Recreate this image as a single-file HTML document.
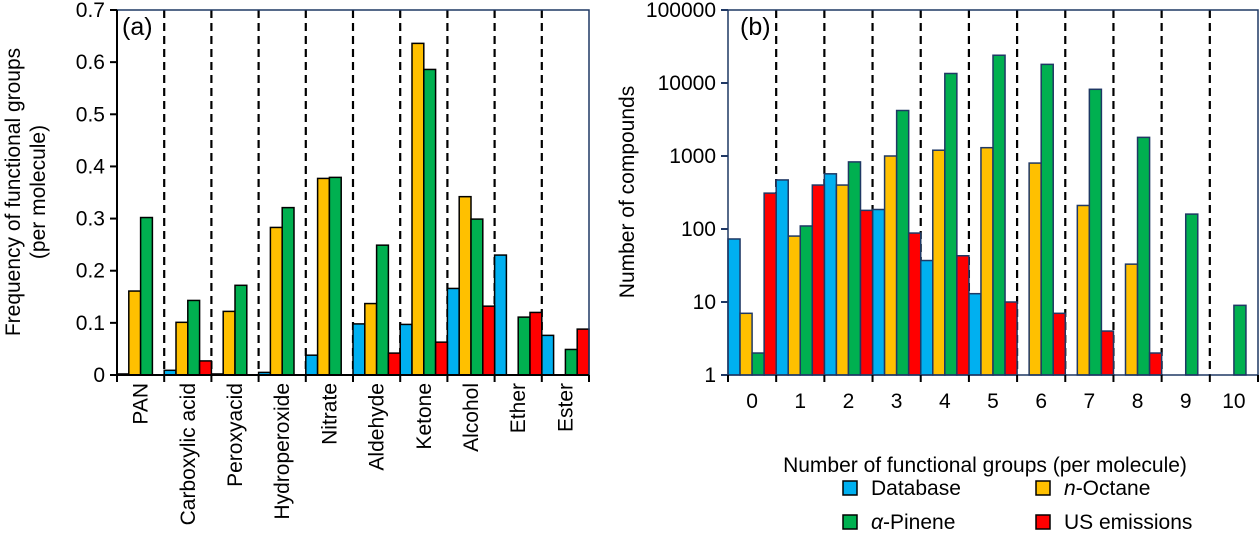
<!DOCTYPE html>
<html><head><meta charset="utf-8"><style>
body{margin:0;background:#fff;}
svg{display:block;font-family:"Liberation Sans",Arial,sans-serif;}
</style></head><body>
<svg id="chart" width="1260" height="551" viewBox="0 0 1260 551"></svg>
<script>
const catsA=["PAN","Carboxylic acid","Peroxyacid","Hydroperoxide","Nitrate","Aldehyde","Ketone","Alcohol","Ether","Ester"];
const dbA=[0.002,0.009,0.002,0.005,0.038,0.098,0.097,0.166,0.230,0.076];
const octA=[0.161,0.101,0.122,0.283,0.377,0.137,0.636,0.342,0,0];
const pinA=[0.302,0.143,0.172,0.321,0.379,0.249,0.586,0.299,0.111,0.049];
const usA=[0,0.027,0,0,0,0.042,0.063,0.132,0.120,0.088];
const ticksA=["0","0.1","0.2","0.3","0.4","0.5","0.6","0.7"];
const catsB=["0","1","2","3","4","5","6","7","8","9","10"];
const dbB=[73,470,570,185,37,13,0,0,0,0,0];
const octB=[7,80,400,1000,1200,1300,800,210,33,0,0];
const pinB=[2,110,830,4200,13500,24000,18000,8200,1800,160,9];
const usB=[310,400,180,88,43,10,7,4,2,0,0];
const ticksB=["1","10","100","1000","10000","100000"];
const colors=["#00B0F0","#FFC000","#00B050","#FF0000"];
const NS="http://www.w3.org/2000/svg";
const svg=document.getElementById("chart");
function mk(tag,attrs,parent){const e=document.createElementNS(NS,tag);for(const k in attrs)e.setAttribute(k,attrs[k]);(parent||svg).appendChild(e);return e;}
const AXC="#1F3864";
const FS=21;
// Panel A
const aL=117,aR=589,aT=10,aB=375;
const yA=v=>aB-(v/0.7)*(aB-aT);
const cwA=(aR-aL)/catsA.length;
const xA=i=>aL+i*cwA;
const gA=mk("g",{});


for(let i=1;i<catsA.length;i++){const l=mk("line",{x1:xA(i),x2:xA(i),y1:aT,y2:aB,stroke:"#000","stroke-width":2.2,"stroke-dasharray":"8,5"},gA);

}
const seriesA=[dbA,octA,pinA,usA];
seriesA.forEach((s,si)=>{s.forEach((v,i)=>{if(v<=0)return;const bw=cwA/4;const r=mk("rect",{x:xA(i)+si*bw,y:yA(v),width:bw,height:aB-yA(v),fill:colors[si],stroke:"#000","stroke-width":1.5},gA);

});});
mk("rect",{x:aL,y:aT,width:aR-aL,height:aB-aT,fill:"none",stroke:AXC,"stroke-width":1.5},gA);
mk("line",{x1:aL,x2:aL,y1:aT,y2:aB,stroke:"#000","stroke-width":2},gA);
mk("line",{x1:aL,x2:aR,y1:aB,y2:aB,stroke:"#000","stroke-width":2},gA);
ticksA.forEach((t,i)=>{const v=i*0.1;const y=yA(v);mk("line",{x1:aL-7,x2:aL,y1:y,y2:y,stroke:"#000","stroke-width":2},gA);
const tx=mk("text",{x:aL-12,y:y+7,"text-anchor":"end","font-size":FS},gA);tx.textContent=t;

});
for(let i=0;i<=catsA.length;i++)mk("line",{x1:xA(i),x2:xA(i),y1:aB,y2:aB+7,stroke:"#000","stroke-width":2},gA);
catsA.forEach((c,i)=>{const cx=xA(i)+cwA/2+7;const t=mk("text",{x:0,y:0,"text-anchor":"end","font-size":FS,transform:`translate(${cx},383) rotate(-90)`},gA);t.textContent=c;

});
const la=mk("text",{x:122,y:35,"font-size":25},gA);la.textContent="(a)";


const ya1=mk("text",{x:0,y:0,"text-anchor":"middle","font-size":FS,transform:"translate(20,192) rotate(-90)"},gA);ya1.textContent="Frequency of functional groups";


const ya2=mk("text",{x:0,y:0,"text-anchor":"middle","font-size":FS,transform:"translate(45,192) rotate(-90)"},gA);ya2.textContent="(per molecule)";


// Panel B
const bL=728,bR=1258,bT=10,bB=375;
const yB=v=>bB-(Math.log10(v)/5)*(bB-bT);
const cwB=(bR-bL)/catsB.length;
const xB=i=>bL+i*cwB;
const gB=mk("g",{});


for(let i=1;i<catsB.length;i++){const l=mk("line",{x1:xB(i),x2:xB(i),y1:bT,y2:bB,stroke:"#000","stroke-width":2.2,"stroke-dasharray":"8,5"},gB);

}
const seriesB=[dbB,octB,pinB,usB];
seriesB.forEach((s,si)=>{s.forEach((v,i)=>{if(v<=1)return;const bw=cwB/4;const r=mk("rect",{x:xB(i)+si*bw,y:yB(v),width:bw,height:bB-yB(v),fill:colors[si],stroke:AXC,"stroke-width":1.5},gB);

});});
mk("rect",{x:bL,y:bT,width:bR-bL,height:bB-bT,fill:"none",stroke:AXC,"stroke-width":1.5},gB);
ticksB.forEach((t,i)=>{const y=yB(Math.pow(10,i));mk("line",{x1:bL-7,x2:bL,y1:y,y2:y,stroke:AXC,"stroke-width":2},gB);
const tx=mk("text",{x:bL-12,y:y+7,"text-anchor":"end","font-size":FS},gB);tx.textContent=t;

});
for(let i=0;i<=catsB.length;i++)mk("line",{x1:xB(i),x2:xB(i),y1:bB,y2:bB+7,stroke:"#000","stroke-width":2},gB);
catsB.forEach((c,i)=>{const t=mk("text",{x:xB(i)+cwB/2,y:408,"text-anchor":"middle","font-size":FS},gB);t.textContent=c;

});
const lb=mk("text",{x:740,y:35,"font-size":25},gB);lb.textContent="(b)";


const yb=mk("text",{x:0,y:0,"text-anchor":"middle","font-size":FS,transform:"translate(634,192) rotate(-90)"},gB);yb.textContent="Number of compounds";


const xb=mk("text",{x:985,y:472,"text-anchor":"middle","font-size":FS},gB);xb.textContent="Number of functional groups (per molecule)";


// Legend
const legend=[["Database",850,488,0],["n-Octane",1043,488,1],["α-Pinene",850,522,2],["US emissions",1043,522,3]];
legend.forEach(([name,x,y,ci])=>{const g=mk("g",{});


mk("rect",{x:x-7,y:y-7,width:14,height:14,fill:colors[ci],stroke:"#000","stroke-width":1.5},g);
const t=mk("text",{x:x+21,y:y+7,"font-size":FS},g);
if(ci===1){t.innerHTML='<tspan font-style="italic">n</tspan>-Octane';}
else if(ci===2){t.innerHTML='<tspan font-style="italic">α</tspan>-Pinene';}
else t.textContent=name;});
</script>
</body></html>
